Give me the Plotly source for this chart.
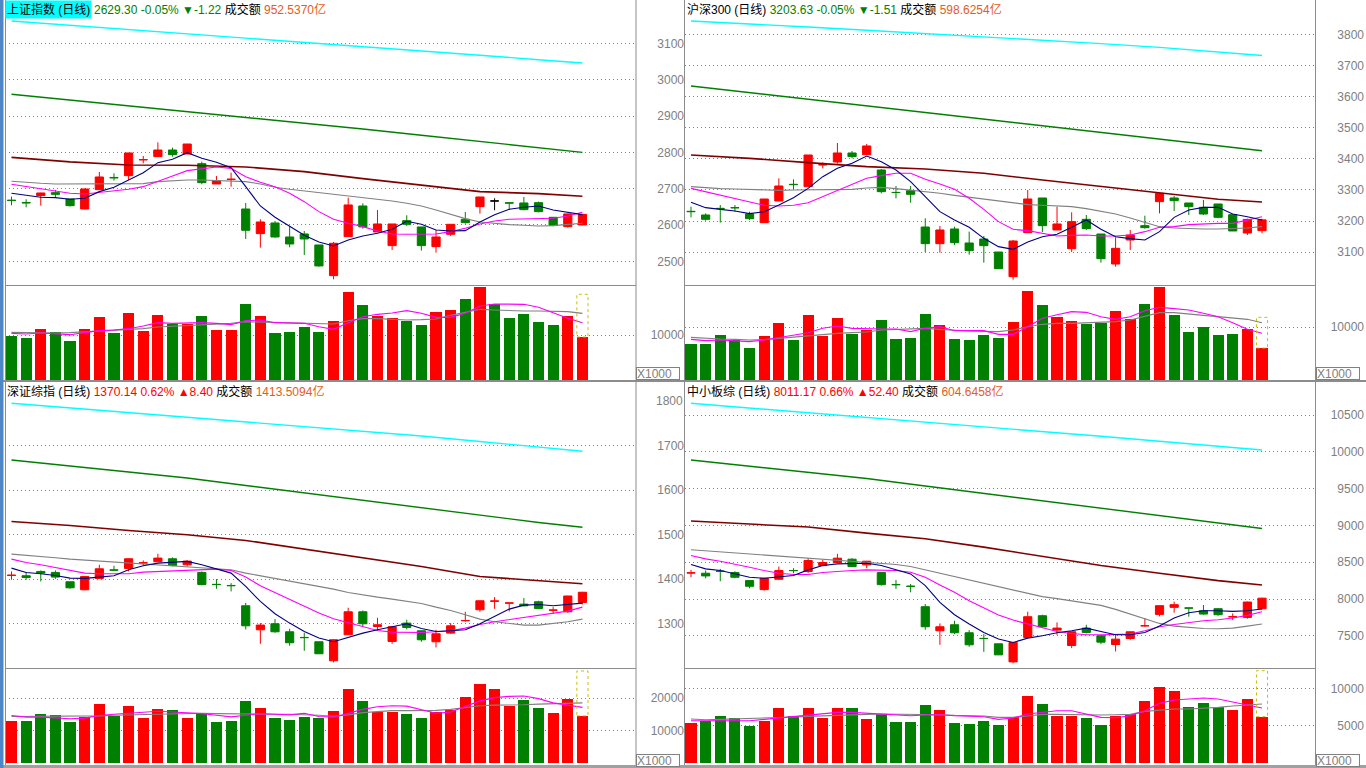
import plotly.graph_objects as go

W, H = 1366, 768

def px(x):
    return x / W

def py(y):
    return 1 - y / H

# ---------------- data ----------------
idx = list(range(40))
long_idx = [0, 4, 8, 12, 16, 20, 24, 28, 32, 36, 39]

titles = ["上证指数 (日线)", "沪深300 (日线)", "深证综指 (日线)", "中小板综 (日线)"]
last_price = ["2629.30", "3203.63", "1370.14", "8011.17"]
pct_change = ["-0.05%", "-0.05%", "0.62%", "0.66%"]
abs_change = ["▼-1.22", "▼-1.51", "▲8.40", "▲52.40"]
turnover = ["952.5370亿", "598.6254亿", "1413.5094亿", "604.6458亿"]

# ---- 上证指数 ----
sh_open = [2668.5, 2662.0, 2680.9, 2689.1, 2671.7, 2644.1, 2697.4, 2731.0, 2735.9, 2779.5, 2788.3, 2806.6, 2795.6, 2769.0, 2713.0, 2725.5, 2644.1, 2576.2, 2605.6, 2567.0, 2575.3, 2545.0, 2460.5, 2567.9, 2652.4, 2580.8, 2543.2, 2612.0, 2594.6, 2540.4, 2574.4, 2615.7, 2650.6, 2666.2, 2661.0, 2660.7, 2661.6, 2621.2, 2595.5, 2600.1]
sh_close = [2667.5, 2661.0, 2688.2, 2684.5, 2653.3, 2699.2, 2732.3, 2730.0, 2798.4, 2780.0, 2806.6, 2793.8, 2823.1, 2716.7, 2722.2, 2726.0, 2585.4, 2608.3, 2567.0, 2547.7, 2561.5, 2487.2, 2549.6, 2655.2, 2594.6, 2602.8, 2602.8, 2601.9, 2543.2, 2567.0, 2601.9, 2606.5, 2677.2, 2666.2, 2660.5, 2642.3, 2636.8, 2599.1, 2630.52, 2629.30]
sh_high = [2678.1, 2670.8, 2689.0, 2696.5, 2671.7, 2700.0, 2746.0, 2742.4, 2798.4, 2790.1, 2827.7, 2813.0, 2823.1, 2774.5, 2735.0, 2744.2, 2660.7, 2615.7, 2611.1, 2597.3, 2583.5, 2545.0, 2553.3, 2675.3, 2659.7, 2641.4, 2602.8, 2626.7, 2594.6, 2586.3, 2602.8, 2635.9, 2677.2, 2673.5, 2661.0, 2677.2, 2664.3, 2621.2, 2631.3, 2630.0]
sh_low = [2654.2, 2648.7, 2653.3, 2675.3, 2650.6, 2643.0, 2697.4, 2722.2, 2724.0, 2769.9, 2788.3, 2788.3, 2795.6, 2712.1, 2713.0, 2705.6, 2561.5, 2537.6, 2565.2, 2538.6, 2517.5, 2485.3, 2450.4, 2567.9, 2590.0, 2580.8, 2531.2, 2597.3, 2529.4, 2523.9, 2569.8, 2603.7, 2631.3, 2640.5, 2641.4, 2640.5, 2635.0, 2596.4, 2592.7, 2599.0]
sh_black = [33]
sh_ma5 = [2687.3, 2680.9, 2676.3, 2675.4, 2670.8, 2673.5, 2691.9, 2703.8, 2724.0, 2744.2, 2771.7, 2780.9, 2799.3, 2783.7, 2772.7, 2758.0, 2705.6, 2652.4, 2621.2, 2595.5, 2571.6, 2553.3, 2542.2, 2558.8, 2569.8, 2577.1, 2588.1, 2610.2, 2601.9, 2586.3, 2583.5, 2584.5, 2608.3, 2628.5, 2643.2, 2648.7, 2652.4, 2641.4, 2635.9, 2628.5]
sh_ma10 = [2712.1, 2705.6, 2698.3, 2691.9, 2687.3, 2685.4, 2689.1, 2693.7, 2698.3, 2705.6, 2719.4, 2735.0, 2749.7, 2755.2, 2759.8, 2756.1, 2733.2, 2717.6, 2705.6, 2687.3, 2664.3, 2636.8, 2615.7, 2604.7, 2595.5, 2583.5, 2575.3, 2574.4, 2574.4, 2575.3, 2581.7, 2590.9, 2602.8, 2611.1, 2615.7, 2616.6, 2617.5, 2618.4, 2624.9, 2635.0]
sh_ma20 = [2720.3, 2716.7, 2714.8, 2713.0, 2713.0, 2713.0, 2713.0, 2713.0, 2713.0, 2713.9, 2719.4, 2722.2, 2724.0, 2724.0, 2723.1, 2722.2, 2719.4, 2713.0, 2703.8, 2698.3, 2693.7, 2690.0, 2685.4, 2679.9, 2674.4, 2670.8, 2666.2, 2659.7, 2652.4, 2641.4, 2628.5, 2617.5, 2608.3, 2603.7, 2601.0, 2599.1, 2597.3, 2598.2, 2601.0, 2604.7]
sh_ma60 = [2786.4, 2773.8, 2765.3, 2764.4, 2759.8, 2746.9, 2727.7, 2710.2, 2691.9, 2686.4, 2679.0]
sh_ma120 = [2960.1, 2944.4, 2928.4, 2912.4, 2896.4, 2880.4, 2864.5, 2847.4, 2830.0, 2813.0, 2800.0]
sh_ma250 = [3162.0, 3150.4, 3138.8, 3127.3, 3115.7, 3104.1, 3092.3, 3080.2, 3067.8, 3055.4, 3046.3]
sh_vol = [9778, 9333, 11333, 10593, 8667, 11333, 14000, 10519, 14889, 10889, 14519, 12519, 12444, 14222, 11111, 11111, 16889, 14222, 10444, 10667, 11778, 10667, 13111, 19556, 16667, 14222, 13778, 13111, 12222, 15111, 15556, 18000, 20667, 16963, 13704, 14667, 12889, 12222, 14222, 9556]
sh_vol_up = [0, 0, 1, 0, 0, 1, 1, 0, 1, 1, 1, 0, 1, 0, 1, 1, 0, 1, 0, 0, 0, 0, 1, 1, 0, 1, 1, 0, 0, 1, 1, 0, 1, 0, 0, 0, 0, 0, 1, 1]
sh_vma5 = [10370, 10222, 10444, 10296, 10074, 10519, 10963, 11111, 11407, 12000, 12741, 12593, 12741, 12741, 12593, 12296, 13185, 13333, 12741, 12741, 12593, 11852, 11259, 12741, 14074, 14593, 14889, 15407, 14815, 13926, 13926, 14815, 16444, 16889, 16889, 16815, 16148, 14963, 13704, 12741]
sh_vma10 = [10593, 10519, 10444, 10444, 10519, 10667, 10815, 11037, 11259, 11407, 11778, 11926, 12074, 12296, 12444, 12593, 12963, 12889, 12741, 12593, 12519, 12444, 12444, 13185, 13630, 13630, 13481, 13333, 13407, 13556, 14370, 15037, 15704, 15556, 15407, 15333, 15333, 15185, 15185, 14815]
sh_vol_est = 19044

# ---- 沪深300 ----
hs_open = [3231.1, 3219.3, 3240.7, 3243.0, 3222.5, 3194.6, 3264.3, 3318.0, 3310.4, 3380.5, 3389.7, 3418.7, 3413.3, 3364.0, 3292.0, 3297.5, 3180.7, 3127.1, 3174.3, 3129.3, 3142.1, 3100.3, 3021.0, 3162.5, 3274.0, 3171.1, 3111.0, 3205.4, 3158.2, 3061.7, 3138.9, 3185.0, 3262.2, 3274.0, 3257.9, 3243.9, 3254.7, 3220.4, 3161.4, 3168.9]
hs_close = [3230.1, 3205.4, 3240.0, 3242.5, 3207.5, 3270.7, 3312.5, 3317.0, 3412.2, 3381.0, 3418.7, 3406.9, 3441.2, 3294.3, 3291.5, 3285.7, 3127.1, 3171.1, 3130.3, 3104.6, 3120.7, 3046.7, 3135.7, 3270.7, 3185.0, 3190.4, 3197.9, 3175.4, 3078.9, 3112.1, 3155.0, 3178.6, 3289.0, 3265.4, 3246.1, 3222.5, 3211.8, 3167.9, 3205.14, 3203.63]
hs_high = [3246.1, 3224.6, 3251.4, 3251.4, 3230.0, 3270.7, 3337.2, 3334.0, 3412.2, 3388.6, 3450.8, 3425.1, 3447.6, 3367.2, 3312.5, 3312.5, 3208.6, 3183.9, 3181.8, 3165.7, 3151.8, 3100.3, 3138.9, 3299.7, 3274.0, 3246.1, 3227.9, 3219.3, 3158.2, 3147.5, 3171.1, 3217.1, 3289.0, 3280.4, 3257.9, 3267.5, 3254.7, 3220.4, 3207.5, 3207.5]
hs_low = [3211.8, 3201.1, 3194.6, 3230.0, 3203.2, 3194.6, 3264.3, 3301.8, 3310.4, 3369.3, 3384.4, 3401.5, 3413.3, 3289.0, 3272.9, 3258.9, 3100.3, 3098.2, 3122.8, 3091.7, 3066.0, 3046.7, 3011.4, 3162.5, 3164.6, 3171.1, 3100.3, 3171.1, 3066.0, 3053.2, 3106.8, 3175.4, 3224.6, 3232.2, 3219.3, 3219.3, 3208.6, 3167.9, 3155.0, 3160.4]
hs_black = []
hs_ma5 = [3260.0, 3242.9, 3237.5, 3232.2, 3223.6, 3230.0, 3251.4, 3275.0, 3305.0, 3342.5, 3369.3, 3385.4, 3409.0, 3390.8, 3364.0, 3326.5, 3278.2, 3230.0, 3203.2, 3179.6, 3144.3, 3117.5, 3108.9, 3132.5, 3149.6, 3157.1, 3179.6, 3203.2, 3173.2, 3149.6, 3143.2, 3138.9, 3165.7, 3211.8, 3235.4, 3243.9, 3243.9, 3222.5, 3213.9, 3203.2]
hs_ma10 = [3305.0, 3294.3, 3283.6, 3272.9, 3262.2, 3250.4, 3248.2, 3250.4, 3258.9, 3278.2, 3297.5, 3317.9, 3337.2, 3345.8, 3353.3, 3353.3, 3334.0, 3319.0, 3301.8, 3272.9, 3237.5, 3197.9, 3173.2, 3168.9, 3160.4, 3151.8, 3153.9, 3155.0, 3151.8, 3151.8, 3155.0, 3165.7, 3179.6, 3181.8, 3188.2, 3191.4, 3192.5, 3192.5, 3203.2, 3213.9]
hs_ma20 = [3310.4, 3306.1, 3304.0, 3302.9, 3300.7, 3298.6, 3298.6, 3299.7, 3300.7, 3301.8, 3301.8, 3301.8, 3306.1, 3308.2, 3304.0, 3299.7, 3294.3, 3289.0, 3282.5, 3276.1, 3269.7, 3263.2, 3256.8, 3252.5, 3250.4, 3248.2, 3246.1, 3239.7, 3231.1, 3222.5, 3209.7, 3194.6, 3181.8, 3177.5, 3175.4, 3174.3, 3174.3, 3175.4, 3177.5, 3181.8]
hs_ma60 = [3412.2, 3401.5, 3387.6, 3374.7, 3367.2, 3353.3, 3331.8, 3310.4, 3289.0, 3269.7, 3261.1]
hs_ma120 = [3634.1, 3612.9, 3591.3, 3570.1, 3548.9, 3527.3, 3506.1, 3484.9, 3463.3, 3442.1, 3426.0]
hs_ma250 = [3843.1, 3834.1, 3823.8, 3813.5, 3803.2, 3792.9, 3782.0, 3770.4, 3758.2, 3744.1, 3732.2]
hs_vol = [6793, 6793, 8491, 7547, 6038, 8302, 10755, 7547, 12264, 8302, 11698, 8679, 9434, 11321, 7736, 7925, 12453, 10377, 7736, 7547, 8491, 7925, 10943, 16792, 14151, 11887, 11132, 10629, 10755, 13019, 11447, 14340, 17547, 12264, 9057, 10000, 8491, 8679, 9623, 6038]
hs_vol_up = [0, 0, 0, 0, 0, 1, 1, 0, 1, 1, 1, 0, 1, 0, 0, 0, 0, 1, 0, 0, 0, 0, 1, 1, 0, 1, 1, 0, 0, 1, 1, 0, 1, 0, 0, 0, 0, 0, 1, 1]
hs_vma5 = [7674, 7422, 7548, 7359, 7233, 7548, 8051, 8428, 8931, 9749, 10189, 9749, 9623, 9623, 9623, 9120, 9749, 10063, 9309, 9309, 9309, 8617, 8617, 10063, 11636, 12327, 12893, 12767, 11950, 11447, 11950, 13082, 13711, 13459, 13208, 12579, 11950, 10818, 9560, 8805]
hs_vma10 = [8051, 7862, 7736, 7673, 7547, 7610, 7862, 8113, 8302, 8617, 8805, 8931, 9057, 9434, 9497, 9560, 9749, 9560, 9371, 9246, 9183, 9120, 9434, 10063, 10503, 10692, 10692, 10755, 10818, 11007, 11321, 12076, 12705, 12705, 12390, 12201, 11950, 11698, 11447, 10818]
hs_vol_est = 11830

# ---- 深证综指 ----
sz_open = [1408.0, 1407.3, 1417.0, 1414.8, 1393.8, 1375.7, 1401.3, 1420.5, 1423.8, 1436.0, 1438.8, 1445.6, 1432.0, 1414.8, 1388.0, 1385.5, 1339.7, 1285.6, 1299.2, 1281.1, 1268.4, 1258.6, 1215.8, 1274.4, 1326.2, 1293.1, 1259.4, 1300.7, 1283.4, 1258.6, 1278.1, 1306.0, 1330.7, 1350.0, 1345.7, 1343.4, 1348.7, 1329.6, 1326.2, 1347.2]
sz_close = [1408.5, 1403.5, 1413.3, 1404.3, 1380.2, 1405.8, 1423.0, 1420.0, 1445.6, 1436.5, 1447.1, 1430.5, 1440.3, 1387.7, 1387.5, 1385.0, 1294.6, 1296.2, 1281.1, 1256.4, 1268.0, 1231.6, 1263.1, 1326.2, 1299.2, 1296.9, 1292.4, 1290.9, 1263.1, 1276.6, 1294.6, 1306.5, 1351.0, 1350.4, 1346.0, 1339.7, 1333.7, 1330.0, 1361.74, 1370.14]
sz_high = [1417.0, 1415.5, 1419.3, 1419.3, 1393.8, 1406.5, 1432.0, 1429.8, 1445.6, 1441.8, 1456.8, 1448.6, 1441.8, 1417.0, 1399.8, 1390.7, 1346.4, 1300.7, 1309.7, 1287.9, 1278.9, 1258.6, 1264.6, 1335.2, 1329.2, 1312.7, 1292.4, 1308.2, 1283.4, 1285.6, 1300.7, 1326.2, 1351.0, 1359.2, 1346.0, 1357.0, 1351.0, 1336.7, 1362.2, 1371.2]
sz_low = [1398.3, 1398.3, 1394.5, 1400.5, 1378.0, 1374.9, 1400.5, 1418.5, 1417.0, 1429.8, 1438.8, 1428.3, 1428.3, 1385.5, 1378.0, 1372.0, 1286.4, 1254.1, 1278.9, 1249.6, 1238.3, 1231.6, 1212.1, 1274.4, 1293.1, 1284.1, 1254.1, 1286.4, 1258.6, 1245.8, 1276.6, 1303.7, 1326.2, 1332.9, 1326.9, 1338.2, 1332.2, 1321.7, 1323.9, 1342.7]
sz_black = []
sz_ma5 = [1424.5, 1414.8, 1411.8, 1408.0, 1402.0, 1401.3, 1404.3, 1407.3, 1420.8, 1429.8, 1435.8, 1438.0, 1439.6, 1432.0, 1422.3, 1413.3, 1383.2, 1349.5, 1321.7, 1300.7, 1281.9, 1266.9, 1258.6, 1269.1, 1278.1, 1285.6, 1293.1, 1299.2, 1288.6, 1281.9, 1283.4, 1285.6, 1299.2, 1315.7, 1332.2, 1341.2, 1342.7, 1339.7, 1342.0, 1345.7]
sz_ma10 = [1444.8, 1437.3, 1432.0, 1426.0, 1419.3, 1413.3, 1411.8, 1411.0, 1411.8, 1415.5, 1417.0, 1419.3, 1420.8, 1422.3, 1422.3, 1419.3, 1404.3, 1384.7, 1369.7, 1354.7, 1338.2, 1323.2, 1310.4, 1302.2, 1293.1, 1284.1, 1280.4, 1279.6, 1279.6, 1281.1, 1283.4, 1289.4, 1297.7, 1303.7, 1308.2, 1313.4, 1317.9, 1321.7, 1327.7, 1336.7]
sz_ma20 = [1456.1, 1453.8, 1450.8, 1447.8, 1444.8, 1442.6, 1440.3, 1438.0, 1436.5, 1434.3, 1431.3, 1429.8, 1428.3, 1426.0, 1423.0, 1420.8, 1413.3, 1407.3, 1402.0, 1396.8, 1390.8, 1384.7, 1377.2, 1369.7, 1363.7, 1359.2, 1354.7, 1350.2, 1345.0, 1336.7, 1329.2, 1319.4, 1309.7, 1303.7, 1299.2, 1296.1, 1296.1, 1299.2, 1303.7, 1309.7]
sz_ma60 = [1529.6, 1520.6, 1509.4, 1499.6, 1486.9, 1467.3, 1446.3, 1428.3, 1405.8, 1396.7, 1389.3]
sz_ma120 = [1668.0, 1654.5, 1641.0, 1627.5, 1610.6, 1593.7, 1576.8, 1559.9, 1543.0, 1527.3, 1516.4]
sz_ma250 = [1795.7, 1785.4, 1775.0, 1764.6, 1754.1, 1743.7, 1733.3, 1722.1, 1709.7, 1697.3, 1687.8]
sz_vol = [12803, 12803, 15205, 14805, 12502, 14003, 18208, 14404, 17607, 13703, 16606, 16306, 13903, 15305, 12502, 12803, 19009, 17007, 13703, 13303, 14204, 13703, 16006, 22712, 19009, 15805, 15805, 15205, 13703, 15805, 16306, 20310, 24414, 22712, 17607, 19309, 17007, 15505, 19709, 14504]
sz_vol_up = [1, 0, 0, 0, 0, 1, 1, 0, 1, 1, 1, 0, 1, 0, 0, 0, 0, 1, 0, 0, 0, 0, 1, 1, 0, 1, 1, 0, 0, 1, 1, 1, 1, 1, 1, 0, 0, 1, 1, 1]
sz_vma5 = [14604, 14104, 14104, 13804, 13603, 13804, 14604, 15005, 15305, 15605, 15906, 15705, 15505, 15205, 14705, 14204, 14705, 15205, 15005, 14805, 15305, 14304, 14104, 15305, 16506, 17307, 17607, 17507, 16506, 15305, 15705, 17307, 19109, 20110, 20510, 20610, 19810, 18508, 17807, 17107]
sz_vma10 = [14304, 14304, 14304, 14304, 14304, 14404, 14504, 14705, 14805, 15005, 15205, 15305, 15305, 15305, 15205, 15105, 15105, 15105, 15005, 15005, 14905, 14705, 14404, 14805, 15505, 15906, 16106, 16106, 16106, 16206, 16506, 17107, 17607, 17807, 17807, 17907, 18108, 18308, 18408, 18508]
sz_vol_est = 28318

# ---- 中小板综 ----
zx_open = [8354.0, 8350.1, 8377.5, 8359.2, 8250.1, 8127.4, 8268.3, 8386.5, 8372.8, 8454.6, 8495.5, 8540.9, 8463.7, 8359.2, 8196.0, 8173.0, 7895.6, 7568.4, 7650.2, 7541.1, 7464.0, 7391.1, 7145.7, 7477.5, 7772.9, 7577.4, 7368.4, 7604.7, 7500.2, 7382.0, 7463.8, 7636.5, 7791.1, 7886.5, 7877.5, 7841.1, 7868.3, 7759.0, 7750.2, 7868.3]
zx_close = [8355.0, 8313.8, 8377.0, 8295.5, 8172.8, 8282.0, 8386.5, 8386.0, 8522.8, 8495.5, 8554.6, 8441.0, 8513.7, 8195.6, 8195.0, 8172.5, 7622.9, 7622.9, 7541.1, 7377.5, 7463.8, 7241.1, 7409.3, 7759.2, 7622.9, 7604.7, 7554.7, 7545.7, 7413.8, 7454.7, 7554.7, 7636.7, 7909.2, 7922.9, 7877.0, 7795.6, 7786.5, 7759.3, 7958.77, 8011.17]
zx_high = [8395.5, 8386.5, 8409.2, 8377.4, 8250.1, 8282.0, 8441.0, 8418.3, 8554.6, 8531.9, 8613.7, 8554.6, 8513.7, 8359.2, 8259.2, 8204.7, 7932.0, 7668.3, 7704.7, 7577.4, 7522.9, 7391.1, 7409.3, 7827.4, 7786.5, 7682.0, 7554.7, 7650.2, 7500.2, 7522.9, 7554.7, 7741.1, 7909.2, 7963.8, 7877.5, 7918.3, 7877.4, 7804.7, 7963.8, 8018.0]
zx_low = [8295.5, 8282.0, 8241.0, 8282.0, 8145.6, 8113.8, 8259.2, 8350.1, 8354.7, 8445.5, 8495.5, 8431.9, 8418.3, 8182.0, 8136.5, 8091.0, 7582.0, 7377.5, 7522.9, 7350.2, 7282.0, 7241.1, 7127.5, 7477.5, 7613.8, 7513.8, 7332.0, 7532.0, 7386.5, 7286.6, 7445.6, 7622.9, 7763.8, 7813.8, 7759.2, 7786.5, 7772.9, 7713.8, 7732.0, 7854.7]
zx_black = []
zx_ma5 = [8468.3, 8409.2, 8386.5, 8341.0, 8295.5, 8281.9, 8295.5, 8318.3, 8395.5, 8454.6, 8477.4, 8477.4, 8486.4, 8454.6, 8400.1, 8341.0, 8182.0, 7954.7, 7786.5, 7659.3, 7545.6, 7455.2, 7409.3, 7468.4, 7500.2, 7541.1, 7568.4, 7604.7, 7559.3, 7513.8, 7513.8, 7545.6, 7632.0, 7741.1, 7813.8, 7841.1, 7841.1, 7832.0, 7841.1, 7863.8]
zx_ma10 = [8591.0, 8545.5, 8513.7, 8477.4, 8431.9, 8386.5, 8350.1, 8331.9, 8331.9, 8359.2, 8377.4, 8386.5, 8395.5, 8395.5, 8386.5, 8363.7, 8295.5, 8191.0, 8091.0, 7977.4, 7877.4, 7782.0, 7713.8, 7659.3, 7613.8, 7559.3, 7532.0, 7513.8, 7513.8, 7513.8, 7522.9, 7568.4, 7622.9, 7654.7, 7682.0, 7704.7, 7718.3, 7741.1, 7777.4, 7827.4]
zx_ma20 = [8668.2, 8654.6, 8641.0, 8627.3, 8613.7, 8600.1, 8586.4, 8572.8, 8559.2, 8545.5, 8531.9, 8518.3, 8504.6, 8491.0, 8468.3, 8441.0, 8395.5, 8350.1, 8304.6, 8259.2, 8213.7, 8168.3, 8113.8, 8068.3, 8032.0, 8004.7, 7977.4, 7950.1, 7913.8, 7858.9, 7795.6, 7727.5, 7668.3, 7632.0, 7613.8, 7600.2, 7595.6, 7604.7, 7632.0, 7659.3]
zx_ma60 = [9059.1, 9022.8, 8977.3, 8895.5, 8818.2, 8704.6, 8577.3, 8454.6, 8350.1, 8250.1, 8191.0]
zx_ma120 = [9888.6, 9807.1, 9725.5, 9637.2, 9535.3, 9433.4, 9331.5, 9229.6, 9127.7, 9025.8, 8957.9]
zx_ma250 = [10659.0, 10595.8, 10532.6, 10469.4, 10406.3, 10343.8, 10279.9, 10210.6, 10142.7, 10074.7, 10024.5]
zx_vol = [5313, 5581, 6341, 6073, 5001, 5671, 7413, 6341, 7413, 5983, 7413, 7413, 5939, 6564, 5537, 5537, 7815, 7145, 5403, 5269, 5671, 5135, 6207, 9022, 7949, 6341, 6341, 6073, 5135, 6341, 6609, 8351, 10228, 9692, 7547, 8083, 7547, 7145, 8620, 6207]
zx_vol_up = [1, 0, 0, 0, 0, 1, 1, 0, 1, 1, 1, 0, 1, 0, 0, 0, 0, 1, 0, 0, 0, 0, 1, 1, 0, 1, 1, 0, 0, 1, 1, 1, 1, 1, 0, 0, 0, 1, 1, 1]
zx_vma5 = [5671, 5671, 5715, 5671, 5671, 5850, 6028, 6207, 6430, 6654, 6788, 6788, 6654, 6564, 6430, 6341, 6430, 6475, 6341, 6252, 6207, 5850, 6028, 6564, 6743, 7011, 7011, 6564, 6117, 6073, 6341, 7011, 7994, 8441, 8620, 8709, 8575, 8218, 7771, 7369]
zx_vma10 = [5894, 5805, 5850, 5894, 5939, 5983, 6073, 6162, 6252, 6341, 6430, 6475, 6520, 6564, 6564, 6564, 6564, 6475, 6386, 6341, 6296, 6117, 6117, 6296, 6520, 6520, 6475, 6386, 6430, 6475, 6520, 6922, 7101, 7235, 7235, 7324, 7459, 7637, 7771, 7905]
zx_vol_est = 12373

# axis tick values (labels)
sh_ticks = [2500, 2600, 2700, 2800, 2900, 3000, 3100]
hs_ticks = [3100, 3200, 3300, 3400, 3500, 3600, 3700, 3800]
sz_ticks = [1300, 1400, 1500, 1600, 1700]   # with dotted grid lines
sz_label_only = [1800]                       # label shown without a grid line
zx_ticks = [7500, 8000, 8500, 9000, 9500, 10000, 10500]
sh_vticks = [10000]
hs_vticks = [10000]
sz_vticks = [10000, 20000]
zx_vticks = [5000, 10000]

# ---------------- styles ----------------
UP = "#FF0000"
DOWN = "#008000"
C5 = "#000080"
C10 = "#FF00FF"
C20 = "#808080"
C60 = "#800000"
C120 = "#008000"
C250 = "#00FFFF"
GRID = "#808080"
AMT = "#E35D1C"
FONT = "Liberation Sans, Arial, Noto Sans CJK SC, sans-serif"
DOT = "1px,3px"

fig = go.Figure()

panels = [
    dict(o=sh_open, c=sh_close, h=sh_high, l=sh_low, black=sh_black, ma5=sh_ma5, ma10=sh_ma10, ma20=sh_ma20,
         ma60=sh_ma60, ma120=sh_ma120, ma250=sh_ma250, vol=sh_vol, up=sh_vol_up, vma5=sh_vma5, vma10=sh_vma10,
         est=sh_vol_est, xp="x", yp="y", xv="x2", yv="y2"),
    dict(o=hs_open, c=hs_close, h=hs_high, l=hs_low, black=hs_black, ma5=hs_ma5, ma10=hs_ma10, ma20=hs_ma20,
         ma60=hs_ma60, ma120=hs_ma120, ma250=hs_ma250, vol=hs_vol, up=hs_vol_up, vma5=hs_vma5, vma10=hs_vma10,
         est=hs_vol_est, xp="x3", yp="y3", xv="x4", yv="y4"),
    dict(o=sz_open, c=sz_close, h=sz_high, l=sz_low, black=sz_black, ma5=sz_ma5, ma10=sz_ma10, ma20=sz_ma20,
         ma60=sz_ma60, ma120=sz_ma120, ma250=sz_ma250, vol=sz_vol, up=sz_vol_up, vma5=sz_vma5, vma10=sz_vma10,
         est=sz_vol_est, xp="x5", yp="y5", xv="x6", yv="y6"),
    dict(o=zx_open, c=zx_close, h=zx_high, l=zx_low, black=zx_black, ma5=zx_ma5, ma10=zx_ma10, ma20=zx_ma20,
         ma60=zx_ma60, ma120=zx_ma120, ma250=zx_ma250, vol=zx_vol, up=zx_vol_up, vma5=zx_vma5, vma10=zx_vma10,
         est=zx_vol_est, xp="x7", yp="y7", xv="x8", yv="y8"),
]

shapes = []
for p in panels:
    xp, yp, xv, yv = p["xp"], p["yp"], p["xv"], p["yv"]
    # long moving averages
    for vals, col, wd in [(p["ma250"], C250, 1.4), (p["ma120"], C120, 1.4), (p["ma60"], C60, 1.6)]:
        fig.add_trace(go.Scatter(x=long_idx, y=vals, mode="lines", line=dict(color=col, width=wd),
                                 xaxis=xp, yaxis=yp, showlegend=False, hoverinfo="skip"))
    for vals, col in [(p["ma20"], C20), (p["ma10"], C10), (p["ma5"], C5)]:
        fig.add_trace(go.Scatter(x=idx, y=vals, mode="lines", line=dict(color=col, width=1.1),
                                 xaxis=xp, yaxis=yp, showlegend=False, hoverinfo="skip"))
    keep = [i for i in idx if i not in p["black"]]
    fig.add_trace(go.Candlestick(
        x=keep, open=[p["o"][i] for i in keep], high=[p["h"][i] for i in keep],
        low=[p["l"][i] for i in keep], close=[p["c"][i] for i in keep],
        increasing=dict(line=dict(color=UP, width=1), fillcolor=UP),
        decreasing=dict(line=dict(color=DOWN, width=1), fillcolor=DOWN),
        whiskerwidth=0, xaxis=xp, yaxis=yp, showlegend=False, hoverinfo="skip"))
    if p["black"]:
        b = p["black"]
        fig.add_trace(go.Candlestick(
            x=b, open=[p["o"][i] for i in b], high=[p["h"][i] for i in b],
            low=[p["l"][i] for i in b], close=[p["c"][i] for i in b],
            increasing=dict(line=dict(color="#000000", width=1), fillcolor="#000000"),
            decreasing=dict(line=dict(color="#000000", width=1), fillcolor="#000000"),
            whiskerwidth=0, xaxis=xp, yaxis=yp, showlegend=False, hoverinfo="skip"))
    # volume
    fig.add_trace(go.Bar(x=idx, y=p["vol"], marker=dict(color=[UP if u else DOWN for u in p["up"]], line=dict(width=0)),
                         width=0.76, xaxis=xv, yaxis=yv, showlegend=False, hoverinfo="skip"))
    for vals, col in [(p["vma10"], C20), (p["vma5"], C10)]:
        fig.add_trace(go.Scatter(x=idx, y=vals, mode="lines", line=dict(color=col, width=1.1),
                                 xaxis=xv, yaxis=yv, showlegend=False, hoverinfo="skip"))
    last = idx[-1]
    shapes.append(dict(type="rect", xref=xv, yref=yv, x0=last - 0.38, x1=last + 0.38,
                       y0=p["vol"][-1], y1=p["est"], line=dict(color="#C8C000", width=1, dash="dot"),
                       fillcolor="rgba(0,0,0,0)"))

# ---------------- axes ----------------
LEFT_D = [px(5), px(636)]
RIGHT_D = [px(685), px(1315)]
TOP_P = [py(285), py(0)]
TOP_V = [py(380), py(286)]
BOT_P = [py(667), py(382)]
BOT_V = [py(763), py(669)]
L_RANGE = [-0.444, 42.66]
R_RANGE = [-0.41, 42.62]


def xax(dom, rng, anchor):
    return dict(domain=dom, range=rng, anchor=anchor, visible=False, fixedrange=True,
                rangeslider=dict(visible=False))


def yax(dom, rng, ticks, pos):
    return dict(domain=dom, range=rng, anchor="free", position=pos, side="left", tickvals=ticks,
                tickformat="d", showgrid=True, gridcolor=GRID, griddash=DOT, gridwidth=1,
                zeroline=False, showline=False, ticks="", fixedrange=True,
                tickfont=dict(family=FONT, size=12, color="#808080"))


layout = dict(
    width=W, height=H, margin=dict(l=0, r=0, t=0, b=0), paper_bgcolor="white", plot_bgcolor="white",
    showlegend=False, bargap=0, boxgap=0.2,
    xaxis=xax(LEFT_D, L_RANGE, "y"), yaxis=yax(TOP_P, [2434.7, 3219.8], sh_ticks, px(684)),
    xaxis2=xax(LEFT_D, L_RANGE, "y2"), yaxis2=yax(TOP_V, [0, 20889], sh_vticks, px(684)),
    xaxis3=xax(RIGHT_D, R_RANGE, "y3"), yaxis3=yax(TOP_P, [2994.2, 3910.6], hs_ticks, px(1364)),
    xaxis4=xax(RIGHT_D, R_RANGE, "y4"), yaxis4=yax(TOP_V, [0, 17736], hs_vticks, px(1364)),
    xaxis5=xax(LEFT_D, L_RANGE, "y5"), yaxis5=yax(BOT_P, [1201.8, 1843.7], sz_ticks, px(684)),
    xaxis6=xax(LEFT_D, L_RANGE, "y6"), yaxis6=yax(BOT_V, [0, 28923], sz_vticks, px(684)),
    xaxis7=xax(RIGHT_D, R_RANGE, "y7"), yaxis7=yax(BOT_P, [7076.1, 10948.4], zx_ticks, px(1364)),
    xaxis8=xax(RIGHT_D, R_RANGE, "y8"), yaxis8=yax(BOT_V, [0, 12600], zx_vticks, px(1364)),
)
fig.update_layout(**layout)

# ---------------- frame lines ----------------
BORDER = "#8C8C8C"


def hline(y, x0, x1, w=1):
    shapes.append(dict(type="line", xref="paper", yref="paper", x0=px(x0), x1=px(x1), y0=py(y), y1=py(y),
                       line=dict(color=BORDER, width=w), layer="above"))


def vline(x, y0, y1, w=1):
    shapes.append(dict(type="line", xref="paper", yref="paper", x0=px(x), x1=px(x), y0=py(y0), y1=py(y1),
                       line=dict(color=BORDER, width=w), layer="above"))


vline(5.5, 0, 768)
vline(636, 0, 768)
vline(684.5, 0, 768)
vline(1315.5, 0, 768)
hline(285.5, 5, 636)
hline(285.5, 684, 1316)
hline(381, 0, 1366, 2)
hline(668.5, 5, 636)
hline(668.5, 684, 1316)
shapes.append(dict(type="rect", xref="paper", yref="paper", x0=0, x1=1, y0=0, y1=py(765),
                   fillcolor="#A0A0A0", line=dict(width=0)))
shapes.append(dict(type="rect", xref="paper", yref="paper", x0=0, x1=px(3.5), y0=0, y1=1,
                   fillcolor="#4F86C6", line=dict(width=0)))
fig.update_layout(shapes=shapes)

# ---------------- titles ----------------
ann = []
ann.append(dict(text=titles[0], x=px(5), y=py(9), xref="paper", yref="paper", xanchor="left", yanchor="middle",
                showarrow=False, bgcolor="#00FFFF", borderpad=1, font=dict(family=FONT, size=12, color="black")))


def rest(i, col):
    return (f'<span style="color:{col}">{last_price[i]} {pct_change[i]} {abs_change[i]}</span> 成交额 '
            f'<span style="color:{AMT}">{turnover[i]}</span>')


ann.append(dict(text=rest(0, DOWN), x=px(92), y=py(9), xref="paper", yref="paper", xanchor="left",
                yanchor="middle", showarrow=False, font=dict(family=FONT, size=12, color="black")))
ann.append(dict(text=titles[1] + " " + rest(1, DOWN), x=px(685), y=py(9), xref="paper", yref="paper",
                xanchor="left", yanchor="middle", showarrow=False, font=dict(family=FONT, size=12, color="black")))
ann.append(dict(text=titles[2] + " " + rest(2, UP), x=px(5), y=py(391), xref="paper", yref="paper",
                xanchor="left", yanchor="middle", showarrow=False, font=dict(family=FONT, size=12, color="black")))
ann.append(dict(text=titles[3] + " " + rest(3, UP), x=px(685), y=py(391), xref="paper", yref="paper",
                xanchor="left", yanchor="middle", showarrow=False, font=dict(family=FONT, size=12, color="black")))

# axis label without grid line (深证综指 1800)
for v in sz_label_only:
    ann.append(dict(text=str(v), x=px(684), y=v, xref="paper", yref="y5", xanchor="right", yanchor="middle",
                    showarrow=False, borderpad=0, font=dict(family=FONT, size=12, color="#808080")))

for xx, yy in [(636, 380), (1316, 380), (636, 767), (1316, 767)]:
    ann.append(dict(text="X1000", x=px(xx), y=py(yy), xref="paper", yref="paper", xanchor="left",
                    yanchor="bottom", showarrow=False, width=42, height=11, align="left",
                    bordercolor="#808080", borderwidth=1, borderpad=0, bgcolor="white",
                    font=dict(family=FONT, size=12, color="#808080")))
fig.update_layout(annotations=ann)

fig.write_html("out.html", config=dict(displayModeBar=False),
               post_script="document.body.style.margin='0';document.body.style.overflow='hidden';")
